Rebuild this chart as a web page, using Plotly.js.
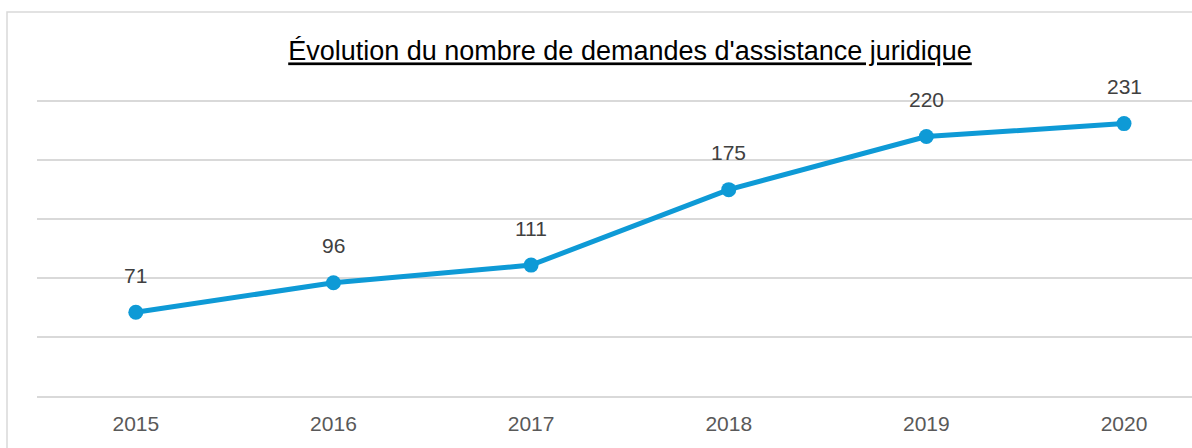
<!DOCTYPE html>
<html>
<head>
<meta charset="utf-8">
<script src="https://cdn.plot.ly/plotly-3.0.1.min.js"></script>
<style>html,body{margin:0;padding:0;background:#fff;}#chart{width:1192px;height:448px;}</style>
</head>
<body>
<div id="chart"></div>
<script>
const years = ['2015', '2016', '2017', '2018', '2019', '2020'];
const demandes = [71, 96, 111, 175, 220, 231];
const titleText = "Évolution du nombre de demandes d'assistance juridique";

const lineColor = '#0E9AD6';
const font = 'Liberation Sans, Arial, sans-serif';

const trace = {
  type: 'scatter',
  mode: 'lines+markers',
  x: years,
  y: demandes,
  line: {color: lineColor, width: 5},
  marker: {color: lineColor, size: 15},
  hoverinfo: 'x+y',
  cliponaxis: false
};

// category axis: annotations are placed by category index
const annotations = years.map((yr, i) => ({
  x: i, y: demandes[i], xref: 'x', yref: 'y',
  text: String(demandes[i]),
  showarrow: false,
  yshift: 37, yanchor: 'middle', xanchor: 'center',
  font: {family: font, size: 21, color: '#404040'}
}));

const layout = {
  width: 1192, height: 448,
  margin: {l: 37, r: 0, t: 100, b: 52},
  paper_bgcolor: '#ffffff', plot_bgcolor: '#ffffff',
  showlegend: false,
  title: {
    text: '<u>' + titleText + '</u>',
    x: 630 / 1192, xanchor: 'center', y: 1 - 51 / 448, yanchor: 'middle',
    font: {family: font, size: 27, color: '#000000'}
  },
  xaxis: {
    type: 'category',
    range: [-0.5, 5.344],
    showgrid: false, zeroline: false,
    showline: true, linecolor: '#D9D9D9', linewidth: 2,
    ticks: 'outside', ticklen: 8, tickcolor: 'rgba(0,0,0,0)',
    tickfont: {family: font, size: 21, color: '#595959'},
    fixedrange: true
  },
  yaxis: {
    range: [0, 251],
    dtick: 50, tick0: 0,
    showgrid: true, gridcolor: '#D9D9D9', gridwidth: 2,
    zeroline: false, showline: false,
    showticklabels: false, ticks: '',
    fixedrange: true
  },
  annotations: annotations,
  shapes: [{
    type: 'rect', xref: 'paper', yref: 'paper',
    x0: (7 - 37) / 1155, x1: 1.2,
    y0: -1, y1: (396 - 12) / 296,
    line: {color: '#D9D9D9', width: 1.5}, fillcolor: 'rgba(0,0,0,0)',
    layer: 'below'
  }]
};

Plotly.newPlot('chart', [trace], layout, {displayModeBar: false});
</script>
</body>
</html>
